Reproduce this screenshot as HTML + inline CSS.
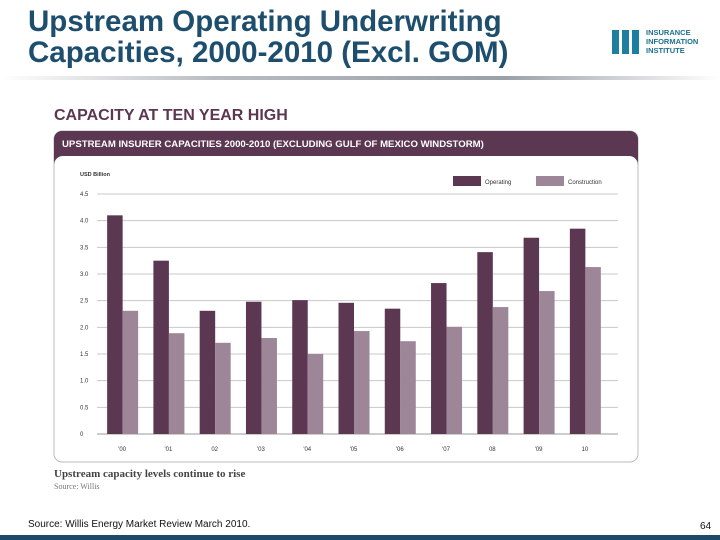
<!DOCTYPE html>
<html><head><meta charset="utf-8"><style>
body{margin:0;width:720px;height:540px;background:#fff;position:relative;overflow:hidden;font-family:"Liberation Sans",sans-serif}
.t{position:absolute;left:28px;top:6px;font-size:29.5px;font-weight:bold;color:#1e4e6e;line-height:31px}
</style></head><body>
<div class="t">Upstream Operating Underwriting<br>Capacities, 2000-2010 (Excl. GOM)</div>
<div style="position:absolute;left:0;top:76px;width:720px;height:4px;background:linear-gradient(90deg,#fff,#b8bcc2 30%,#9aa0a8 70%,#fff)"></div>
<div style="position:absolute;left:612px;top:28px;width:100px;height:28px">
<div style="position:absolute;left:0;top:2px;width:30px;height:24px;background:repeating-linear-gradient(90deg,#1d7f9f 0 7px,#fff 7px 10px)"></div>
<div style="position:absolute;left:34px;top:0;font-size:7.5px;font-weight:bold;color:#1d6f8f;line-height:9px">INSURANCE<br>INFORMATION<br>INSTITUTE</div></div>
<svg width="720" height="540" style="position:absolute;left:0;top:0" id="c">
<text x="54" y="120" font-size="16" font-weight="bold" fill="#5c3752">CAPACITY AT TEN YEAR HIGH</text>
<rect x="54" y="131" width="584" height="331" rx="8" fill="#fff" stroke="#bbb"/>
<path d="M54 155 V139 a8 8 0 0 1 8 -8 H630 a8 8 0 0 1 8 8 V155 Z" fill="#5c3752"/>
<path d="M54 155 H638 V165 a9 9 0 0 0 -9 -9 H63 a9 9 0 0 0 -9 9Z" fill="#5c3752"/>
<text x="62" y="147" font-size="9.6" font-weight="bold" fill="#fff">UPSTREAM INSURER CAPACITIES 2000-2010 (EXCLUDING GULF OF MEXICO WINDSTORM)</text>
<text x="80" y="176" font-size="5.5" font-weight="bold" fill="#333">USD Billion</text>
<rect x="453" y="176" width="28" height="10" fill="#5c3752"/>
<text x="485" y="184" font-size="6" fill="#333">Operating</text>
<rect x="536" y="176" width="28" height="10" fill="#9c8698"/>
<text x="568" y="184" font-size="6" fill="#333">Construction</text>
<g id="g"></g>
<text x="54" y="477" font-size="11" font-weight="bold" fill="#444" font-family="Liberation Serif,serif">Upstream capacity levels continue to rise</text>
<text x="54" y="489" font-size="8" fill="#777" font-family="Liberation Serif,serif">Source: Willis</text>
<text x="28" y="527" font-size="10" fill="#111">Source: Willis Energy Market Review March 2010.</text>
<text x="700" y="529" font-size="10" fill="#111">64</text>
<rect x="0" y="535" width="720" height="5" fill="#1e4a6a"/>
</svg>
<script>
const categories=["'00","'01","02","'03","'04","'05","'06","'07","08","'09","10"];
const operating=[4.1,3.25,2.31,2.48,2.51,2.46,2.35,2.83,3.41,3.68,3.85];
const construction=[2.31,1.89,1.71,1.80,1.50,1.93,1.74,2.01,2.38,2.68,3.13];
const ticks=[0,0.5,1,1.5,2,2.5,3,3.5,4,4.5];
const tickLabels=["0","0.5","1.0","1.5","2.0","2.5","3.0","3.5","4.0","4.5"];
const NS="http://www.w3.org/2000/svg",g=document.getElementById('g');
const x0=100,x1=609,gridEnd=618,yB=434,yT=194;
const y=v=>yB-(v/4.5)*(yB-yT);
const step=(x1-x0)/categories.length;
const xc=i=>x0+step*(i+0.5);
function mk(t,a){const e=document.createElementNS(NS,t);for(const k in a)e.setAttribute(k,a[k]);g.appendChild(e);return e;}
ticks.forEach((v,i)=>{
const l=mk('line',{x1:97,x2:gridEnd,y1:y(v),y2:y(v),stroke:v===0?'#999':'#c8c8c8','stroke-width':1});


const t=mk('text',{x:80,y:y(v)+2,'font-size':6,fill:'#333'});t.textContent=tickLabels[i];


});
categories.forEach((c,i)=>{
const a=mk('rect',{x:xc(i)-16,y:y(operating[i]),width:15.5,height:yB-y(operating[i]),fill:'#5c3752'});


const b=mk('rect',{x:xc(i)-0.5,y:y(construction[i]),width:15.5,height:yB-y(construction[i]),fill:'#9c8698'});


const t=mk('text',{x:xc(i)-1,y:451,'font-size':6,fill:'#333','text-anchor':'middle'});t.textContent=c;


});
</script>
</body></html>
